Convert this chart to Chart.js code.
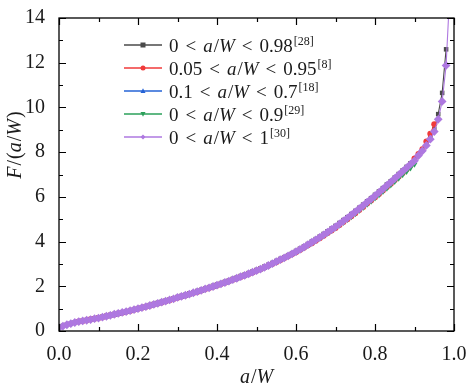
<!DOCTYPE html>
<html>
<head>
<meta charset="utf-8">
<script src="https://cdn.jsdelivr.net/npm/chart.js@4/dist/chart.umd.min.js"></script>
<style>
html,body{margin:0;padding:0;background:#fff;}
#c{display:block;}
</style>
</head>
<body>
<canvas id="c" width="474" height="391"></canvas>
<script>
// a/W sample positions
const aW = [0.00,0.01,0.02,0.03,0.04,0.05,0.06,0.07,0.08,0.09,
0.10,0.11,0.12,0.13,0.14,0.15,0.16,0.17,0.18,0.19,
0.20,0.21,0.22,0.23,0.24,0.25,0.26,0.27,0.28,0.29,
0.30,0.31,0.32,0.33,0.34,0.35,0.36,0.37,0.38,0.39,
0.40,0.41,0.42,0.43,0.44,0.45,0.46,0.47,0.48,0.49,
0.50,0.51,0.52,0.53,0.54,0.55,0.56,0.57,0.58,0.59,
0.60,0.61,0.62,0.63,0.64,0.65,0.66,0.67,0.68,0.69,
0.70,0.71,0.72,0.73,0.74,0.75,0.76,0.77,0.78,0.79,
0.80,0.81,0.82,0.83,0.84,0.85,0.86,0.87,0.88,0.89,
0.90,0.91,0.92,0.93,0.94,0.95,0.96,0.97,0.98,0.99];

// 0 < a/W < 0.98 [28]  (a/W = 0.00 .. 0.98)
const seriesBlack = [0.16,0.23,0.29,0.34,0.39,0.43,0.46,0.49,0.53,0.56,
0.60,0.64,0.68,0.72,0.76,0.80,0.84,0.88,0.93,0.97,
1.02,1.06,1.11,1.16,1.21,1.26,1.31,1.36,1.41,1.46,
1.52,1.57,1.62,1.68,1.73,1.79,1.84,1.90,1.96,2.02,
2.08,2.14,2.20,2.26,2.33,2.39,2.46,2.52,2.59,2.66,
2.73,2.80,2.88,2.96,3.04,3.13,3.22,3.30,3.39,3.48,
3.58,3.68,3.78,3.89,4.00,4.11,4.22,4.34,4.46,4.58,
4.70,4.83,4.96,5.09,5.23,5.37,5.51,5.65,5.80,5.94,
6.09,6.24,6.39,6.55,6.70,6.86,7.02,7.18,7.34,7.50,
7.66,7.88,8.10,8.34,8.62,9.02,9.70,10.65,12.60];

// 0.05 < a/W < 0.95 [8]  (a/W = 0.05 .. 0.95)
const seriesRed = [0.42,0.45,0.48,0.52,0.55,
0.58,0.62,0.66,0.70,0.74,0.78,0.82,0.86,0.90,0.95,
0.99,1.04,1.08,1.13,1.18,1.23,1.28,1.33,1.38,1.43,
1.49,1.54,1.59,1.64,1.70,1.75,1.81,1.87,1.92,1.98,
2.04,2.10,2.16,2.22,2.29,2.35,2.42,2.48,2.55,2.62,
2.69,2.76,2.84,2.92,3.00,3.08,3.17,3.25,3.34,3.43,
3.52,3.62,3.72,3.83,3.93,4.04,4.15,4.26,4.38,4.50,
4.61,4.74,4.87,5.00,5.13,5.27,5.41,5.55,5.70,5.84,
5.98,6.13,6.28,6.44,6.59,6.75,6.91,7.07,7.24,7.42,
7.72,7.92,8.13,8.48,8.82,9.25];

// 0.1 < a/W < 0.7 [18]  (a/W = 0.10 .. 0.70)
const seriesBlue = [0.57,0.61,0.65,0.69,0.73,0.77,0.81,0.85,0.89,0.94,
0.98,1.03,1.07,1.12,1.17,1.22,1.27,1.32,1.37,1.42,
1.48,1.53,1.58,1.63,1.69,1.74,1.80,1.86,1.91,1.97,
2.03,2.09,2.15,2.21,2.28,2.34,2.41,2.47,2.54,2.61,
2.68,2.75,2.83,2.91,2.99,3.08,3.17,3.25,3.34,3.43,
3.53,3.63,3.73,3.84,3.95,4.06,4.17,4.28,4.40,4.52,
4.64];

// 0 < a/W < 0.9 [29]  (a/W = 0.00 .. 0.90)
const seriesGreen = [0.14,0.21,0.27,0.32,0.37,0.41,0.44,0.47,0.50,0.54,
0.57,0.61,0.65,0.69,0.74,0.78,0.82,0.86,0.90,0.95,
0.99,1.04,1.08,1.13,1.18,1.23,1.28,1.33,1.38,1.43,
1.49,1.54,1.59,1.64,1.70,1.75,1.81,1.87,1.92,1.98,
2.04,2.10,2.16,2.22,2.29,2.35,2.42,2.48,2.55,2.62,
2.69,2.76,2.84,2.92,3.00,3.08,3.17,3.25,3.34,3.43,
3.52,3.62,3.72,3.82,3.93,4.04,4.15,4.26,4.37,4.49,
4.60,4.72,4.85,4.98,5.11,5.24,5.38,5.52,5.66,5.80,
5.94,6.08,6.23,6.38,6.53,6.68,6.83,6.98,7.13,7.29,
7.45];

// 0 < a/W < 1 [30]  (a/W = 0.00 .. 0.99)
const seriesPurple = [0.15,0.22,0.28,0.33,0.38,0.42,0.45,0.48,0.51,0.55,
0.58,0.62,0.66,0.70,0.75,0.79,0.83,0.87,0.91,0.96,
1.00,1.05,1.09,1.14,1.19,1.24,1.29,1.34,1.39,1.44,
1.50,1.55,1.60,1.65,1.71,1.76,1.82,1.88,1.93,1.99,
2.05,2.11,2.17,2.23,2.30,2.36,2.43,2.49,2.56,2.63,
2.70,2.77,2.85,2.93,3.01,3.10,3.19,3.27,3.36,3.45,
3.55,3.65,3.75,3.86,3.97,4.08,4.19,4.30,4.42,4.54,
4.66,4.79,4.92,5.05,5.19,5.33,5.47,5.61,5.76,5.90,
6.05,6.20,6.35,6.51,6.66,6.82,6.98,7.14,7.30,7.46,
7.62,7.85,8.06,8.30,8.58,8.92,9.47,10.27,11.88,15.40];

const xTicks = [0.0,0.2,0.4,0.6,0.8,1.0];
const yTicks = [0,2,4,6,8,10,12,14];

const legendItems = [
  {lo:'0', hi:'0.98', ref:'[28]'},
  {lo:'0.05', hi:'0.95', ref:'[8]'},
  {lo:'0.1', hi:'0.7', ref:'[18]'},
  {lo:'0', hi:'0.9', ref:'[29]'},
  {lo:'0', hi:'1', ref:'[30]'}
];

const COLORS = ['#4a4a4a','#f03a3a','#2563d6','#2ba05a','#ae78e0'];
const STYLES = ['rect','circle','triangle','triangleDown','rectRot'];
const RADII = [3.2,3.0,3.4,3.4,4.4];

function pts(xs, ys, start){ return ys.map((y,i)=>({x:xs[start+i], y:y})); }

const seriesList = [
  {ys:seriesBlack, start:0},
  {ys:seriesRed, start:5},
  {ys:seriesBlue, start:10},
  {ys:seriesGreen, start:0},
  {ys:seriesPurple, start:0}
];

const SERIF = '"Liberation Serif", "DejaVu Serif", serif';

const datasets = seriesList.map((s,k)=>({
  label: 'S'+k,
  data: pts(aW, s.ys, s.start),
  borderColor: COLORS[k],
  backgroundColor: COLORS[k],
  borderWidth: 1.1,
  pointRadius: RADII[k],
  pointBorderWidth: 0,
  pointStyle: STYLES[k]==='triangleDown' ? 'triangle' : STYLES[k],
  pointRotation: STYLES[k]==='triangleDown' ? 180 : 0,
  tension: 0,
  order: 5-k,
  clip: 0
}));

function drawMarker(ctx, style, x, y, r, color){
  ctx.save();
  ctx.fillStyle = color;
  ctx.beginPath();
  if(style==='rect'){ ctx.rect(x-r, y-r, 2*r, 2*r); }
  else if(style==='circle'){ ctx.arc(x,y,r,0,Math.PI*2); }
  else if(style==='triangle'){ ctx.moveTo(x,y-r*1.1); ctx.lineTo(x+r,y+r*0.8); ctx.lineTo(x-r,y+r*0.8); ctx.closePath(); }
  else if(style==='triangleDown'){ ctx.moveTo(x,y+r*1.1); ctx.lineTo(x+r,y-r*0.8); ctx.lineTo(x-r,y-r*0.8); ctx.closePath(); }
  else if(style==='rectRot'){ ctx.moveTo(x,y-r); ctx.lineTo(x+r,y); ctx.lineTo(x,y+r); ctx.lineTo(x-r,y); ctx.closePath(); }
  ctx.fill();
  ctx.restore();
}

function richWidth(ctx, parts){
  let w=0;
  for(const p of parts){ ctx.font = (p.it?'italic ':'')+p.size+'px '+SERIF; w += (p.gap||0) + ctx.measureText(p.t).width; }
  return w;
}
function drawRich(ctx, x, y, parts){
  let cx = x;
  for(const p of parts){
    cx += (p.gap||0);
    ctx.font = (p.it?'italic ':'')+p.size+'px '+SERIF;
    ctx.fillText(p.t, cx, y + (p.dy||0));
    cx += ctx.measureText(p.t).width;
  }
  return cx;
}

const framePlugin = {
  id:'frame',
  afterDraw(chart){
    const ctx = chart.ctx, a = chart.chartArea;
    const xs = chart.scales.x, ys = chart.scales.y;
    ctx.save();
    ctx.strokeStyle = '#000';
    ctx.lineWidth = 1.3;
    ctx.strokeRect(a.left, a.top, a.right-a.left, a.bottom-a.top);
    ctx.lineWidth = 1.2;
    ctx.beginPath();
    for(let v=0; v<=10; v++){
      const val = v/10;
      const px = Math.round(xs.getPixelForValue(val))+0.5;
      const len = (v%2===0) ? 7 : 4;
      ctx.moveTo(px, a.bottom); ctx.lineTo(px, a.bottom-len);
      ctx.moveTo(px, a.top); ctx.lineTo(px, a.top+len);
    }
    for(let v=0; v<=14; v++){
      const py = Math.round(ys.getPixelForValue(v))+0.5;
      const len = (v%2===0) ? 7 : 4;
      ctx.moveTo(a.left, py); ctx.lineTo(a.left+len, py);
      ctx.moveTo(a.right, py); ctx.lineTo(a.right-len, py);
    }
    ctx.stroke();

    // legend
    ctx.textBaseline = 'alphabetic';
    ctx.textAlign = 'left';
    const rowY = [45, 68, 91, 114, 137];
    legendItems.forEach((it,k)=>{
      const y = rowY[k];
      ctx.strokeStyle = COLORS[k];
      ctx.lineWidth = 1.3;
      ctx.beginPath(); ctx.moveTo(124, y); ctx.lineTo(162, y); ctx.stroke();
      drawMarker(ctx, STYLES[k], 143, y, 2.5, COLORS[k]);
      const fs = 19;
      const parts = [
        {t:it.lo, size:fs},
        {t:'<', size:fs, gap:7},
        {t:'a', size:fs, it:true, gap:7},
        {t:'/', size:fs, gap:1},
        {t:'W', size:fs, it:true},
        {t:'<', size:fs, gap:7},
        {t:it.hi, size:fs, gap:7},
        {t:it.ref, size:12, dy:-7, gap:1}
      ];
      ctx.fillStyle = '#1a1a1a';
      drawRich(ctx, 169, y+6.5, parts);
    });

    // x axis title
    ctx.fillStyle = '#1a1a1a';
    const xt = [{t:'a', size:20, it:true},{t:'/', size:20, gap:1},{t:'W', size:20, it:true}];
    const wx = richWidth(ctx, xt);
    const cxm = (a.left+a.right)/2;
    drawRich(ctx, cxm - wx/2, 383, xt);

    // y axis title (rotated)
    const yt = [{t:'F', size:20, it:true},{t:'/', size:20, gap:1},{t:'(', size:20, gap:1},{t:'a', size:20, it:true},{t:'/', size:20, gap:1},{t:'W', size:20, it:true},{t:')', size:20, gap:1}];
    const wy = richWidth(ctx, yt);
    ctx.translate(21, 145);
    ctx.rotate(-Math.PI/2);
    drawRich(ctx, -wy/2, 0, yt);
    ctx.restore();
  }
};

new Chart(document.getElementById('c'), {
  type:'line',
  data:{ datasets },
  options:{
    responsive:false,
    animation:false,
    devicePixelRatio:1,
    layout:{ padding:{ top:14, right:20, left:0, bottom:0 } },
    plugins:{ legend:{ display:false }, tooltip:{ enabled:false } },
    scales:{
      x:{
        type:'linear', min:0, max:1,
        afterBuildTicks(s){ s.ticks = xTicks.map(v=>({value:v})); },
        afterFit(s){ s.height = 60; },
        grid:{ display:false }, border:{ display:false },
        ticks:{ autoSkip:false, maxRotation:0, padding:4, color:'#1a1a1a',
          font:{ family:SERIF, size:20 },
          callback:(v)=>Number(v).toFixed(1) }
      },
      y:{
        type:'linear', min:0, max:14,
        afterBuildTicks(s){ s.ticks = yTicks.map(v=>({value:v})); },
        afterFit(s){ s.width = 59; },
        grid:{ display:false }, border:{ display:false },
        ticks:{ autoSkip:false, padding:6, color:'#1a1a1a',
          font:{ family:SERIF, size:20 },
          callback:(v)=>String(v) }
      }
    }
  },
  plugins:[framePlugin]
});
</script>
</body>
</html>
